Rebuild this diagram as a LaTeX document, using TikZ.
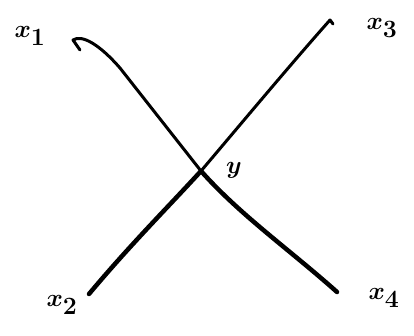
\documentclass[tikz,border=0pt]{standalone}
\begin{document}
\begin{tikzpicture}[x=1pt, y=-1pt, every node/.style={font=\fontsize{36}{38}\selectfont\boldmath},
  thin stroke/.style={line width=3pt, line cap=round, line join=round},
  thick stroke/.style={line width=4.5pt, line cap=round, line join=round}]
\useasboundingbox (0,0) rectangle (414,335);
\node (x1) at (30,36) {$x_1$};
\node (x3) at (382,28) {$x_3$};
\node (x2) at (62,305) {$x_2$};
\node (x4) at (384,298) {$x_4$};
\node (y) at (234,170) {$y$};
\coordinate (c) at (201,171);
\coordinate (a) at (80,50);
\coordinate (b) at (337,292);
\coordinate (d) at (89,294);
\coordinate (e) at (330,20);
\draw[thin stroke] (a) -- (73,40) .. controls (82,34) and (100,45) .. (120,68) -- (c);
\draw[thick stroke] (c) .. controls (240,215) and (290,250) .. (b);
\draw[thick stroke] (d) .. controls (130,245) and (170,205) .. (c);
\draw[thin stroke] (c) .. controls (240,125) and (290,65) .. (e) -- (333,24);
\end{tikzpicture}
\end{document}
